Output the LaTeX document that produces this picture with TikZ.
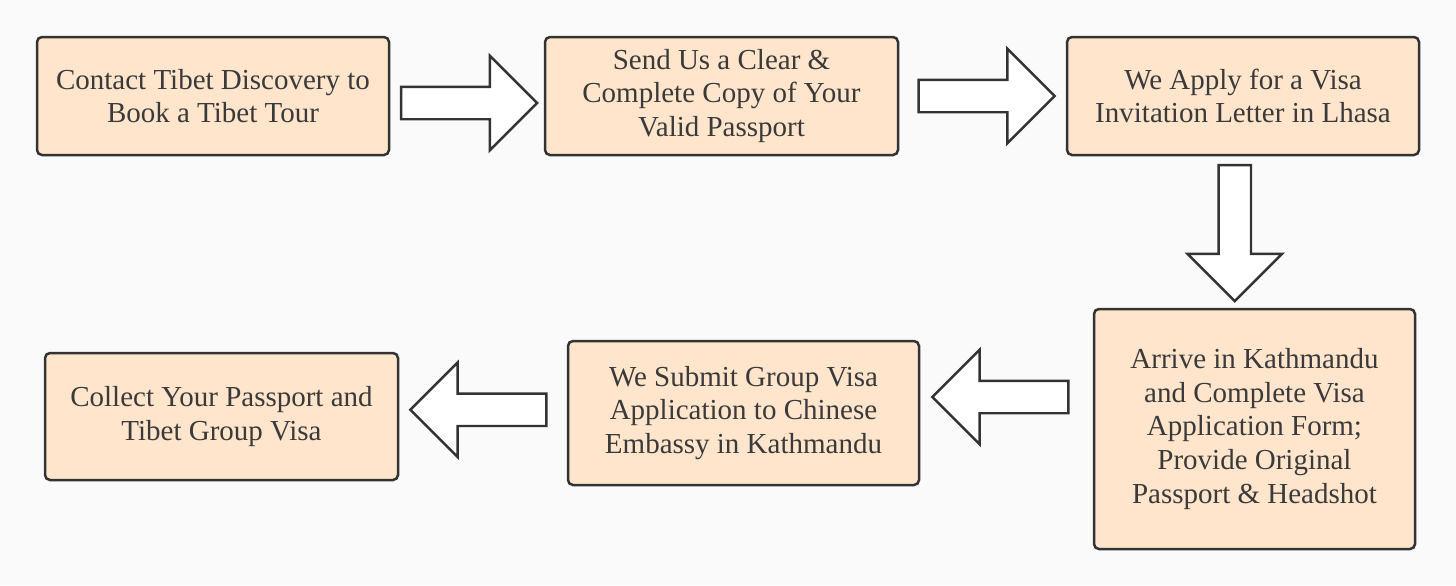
\documentclass[tikz,border=0pt]{standalone}
\usepackage{fontspec}
\setmainfont{Liberation Serif}
\usepackage{xcolor}
\usetikzlibrary{calc, shapes.arrows}

\definecolor{boxfill}{HTML}{FFE5CC}
\definecolor{boxline}{HTML}{333333}
\definecolor{txt}{HTML}{3A3A3A}
\definecolor{bg}{HTML}{FAFAFA}

\begin{document}
\begin{tikzpicture}[
  x=0.5pt, y=-0.5pt,
  stepbox/.style={draw=boxline, fill=boxfill, line width=1.25pt, rounded corners=2.5pt,
    text=txt, align=center, inner sep=2pt,
    font=\fontsize{14.5}{16.8}\selectfont},
  blockarrow/.style={single arrow, draw=boxline, fill=white, line width=1.2pt,
    inner xsep=0pt, inner ysep=7.5pt, single arrow head extend=15.5pt,
    single arrow tip angle=90, minimum height=68pt}
]
\fill[bg] (0,0) rectangle (1456,585);
\useasboundingbox (0,0) rectangle (1456,585);

% top row
\node[stepbox, minimum width=176pt, minimum height=59pt] (b1) at (213,96)
  {Contact Tibet Discovery to\\Book a Tibet Tour};
\node[stepbox, minimum width=176.5pt, minimum height=59pt] (b2) at (721.5,96)
  {Send Us a Clear \&\\Complete Copy of Your\\Valid Passport};
\node[stepbox, minimum width=176pt, minimum height=59pt] (b3) at (1243,96)
  {We Apply for a Visa\\Invitation Letter in Lhasa};

% bottom row
\node[stepbox, minimum width=160.5pt, minimum height=120pt] (b4) at (1254.5,429)
  {Arrive in Kathmandu\\and Complete Visa\\Application Form;\\Provide Original\\Passport \& Headshot};
\node[stepbox, minimum width=175.5pt, minimum height=72pt] (b5) at (743.5,413)
  {We Submit Group Visa\\Application to Chinese\\Embassy in Kathmandu};
\node[stepbox, minimum width=176.5pt, minimum height=63.5pt] (b6) at (221.5,416.5)
  {Collect Your Passport and\\Tibet Group Visa};

% block arrows
\node[blockarrow] (a12) at ($(b1.east)!0.5!(b2.west)+(-6,7)$) {};
\node[blockarrow] (a23) at ($(b2.east)!0.5!(b3.west)+(-4,0)$) {};
\node[blockarrow, rotate=-90] (a34) at ($(b3.south)!0.5!(b4.north)+(-14,-7)$) {};
\node[blockarrow, rotate=180] (a45) at ($(b5.east)!0.5!(b4.west)+(2,-24)$) {};
\node[blockarrow, rotate=180] (a56) at ($(b6.east)!0.5!(b5.west)+(3.5,-5)$) {};
\end{tikzpicture}
\end{document}
